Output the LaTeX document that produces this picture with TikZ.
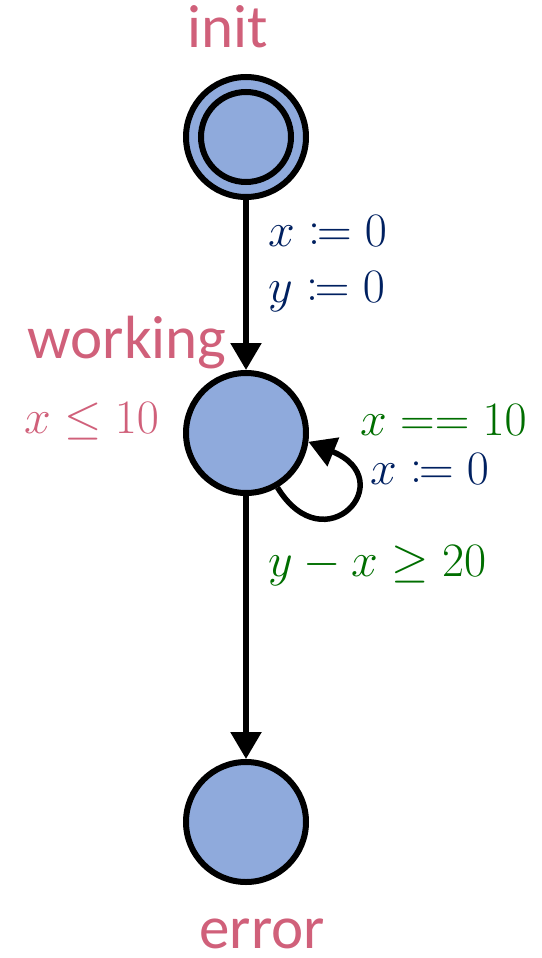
\RequirePackage{fix-cm}
\documentclass[tikz,border=0pt]{standalone}
\usepackage{fontspec}
\usepackage{mathtools}
\setmainfont{Carlito}
\usetikzlibrary{arrows.meta}
\definecolor{fillblue}{HTML}{8FAADC}
\definecolor{namepink}{HTML}{D0607A}
\definecolor{guardgreen}{HTML}{006E00}
\definecolor{assignblue}{HTML}{002060}
\begin{document}
\begin{tikzpicture}[x=1pt,y=-1pt,
  state/.style={circle,draw=black,line width=6pt,fill=fillblue,minimum size=120pt,inner sep=0pt},
  namelbl/.style={text=namepink,font=\fontsize{61}{61}\selectfont,inner sep=0pt,anchor=base,text depth=0pt},
  mathlbl/.style={font=\fontsize{48}{48}\selectfont,inner sep=0pt,anchor=base west},
  edge/.style={line width=5.5pt,-{Triangle[width=30pt,length=27pt]}}]
\useasboundingbox (0,0) rectangle (541,958);
% states
\node[state] (init) at (246,137) {};
\draw[line width=6pt] (init.center) circle[radius=45pt];
\node[state] (work) at (246,433) {};
\node[state] (err) at (246,822) {};
% names
\node[namelbl] (ninit) at (228,48) {init};
\node[namelbl] (nwork) at (127,358) {working};
\node[namelbl] (nerr) at (262,948) {error};
% edges
\draw[edge] (init) -- (work);
\draw[edge] (work) -- (err);
\draw[edge] (work.-60) .. controls (325,565) and (402,480) .. (work.-8);
% labels
\node[mathlbl,text=assignblue] (a1) at (268,246) {$x \coloneqq 0$};
\node[mathlbl,text=assignblue] (a2) at (268,302) {$y \coloneqq 0$};
\node[mathlbl,text=namepink] (inv) at (24,433) {$x \le 10$};
\node[mathlbl,text=guardgreen] (g1) at (360,435) {$x == 10$};
\node[mathlbl,text=assignblue] (a3) at (370,484) {$x \coloneqq 0$};
\node[mathlbl,text=guardgreen] (g2) at (268,576) {$y - x \ge 20$};
\end{tikzpicture}
\end{document}
